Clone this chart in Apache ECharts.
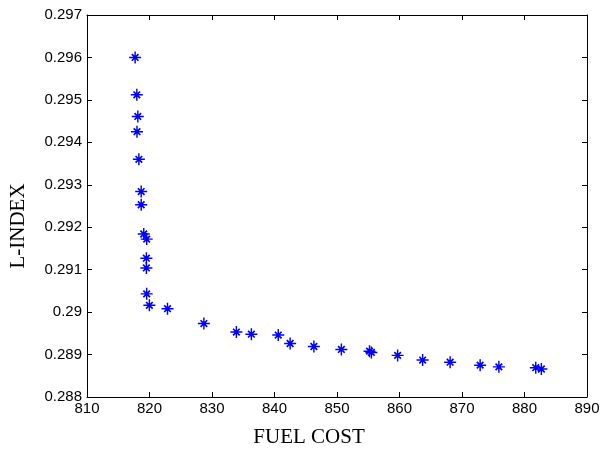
<!DOCTYPE html>
<html>
<head>
<meta charset="utf-8">
<script src="https://cdn.jsdelivr.net/npm/echarts@6/dist/echarts.min.js"></script>
<style>
  html, body { margin: 0; padding: 0; background: #fff; }
  #chart { width: 608px; height: 453px; }
</style>
</head>
<body>
<div id="chart"></div>
<script>
// pareto front: fuel cost vs L-index
const fuelCost = [
  817.7, 817.97, 818.13, 818.0, 818.3, 818.67, 818.67, 819.08, 819.55, 819.5,
  819.5, 819.55, 819.98, 822.88, 828.7, 833.9, 836.3, 840.6, 842.5, 846.3,
  850.7, 855.2, 855.5, 859.7, 863.7, 868.1, 872.9, 875.9, 881.8, 882.7
]
const lIndex = [
  0.29600, 0.29512, 0.29461, 0.29425, 0.29360, 0.29284, 0.29253, 0.29184, 0.29172, 0.29127,
  0.29104, 0.29043, 0.29016, 0.29008, 0.28973, 0.28953, 0.28948, 0.28946, 0.28926, 0.28919,
  0.28912, 0.28908, 0.28905, 0.28898, 0.28887, 0.28882, 0.28875, 0.28871, 0.28869, 0.28866
]
const xTicks = [810, 820, 830, 840, 850, 860, 870, 880, 890]
const yTicks = [0.288, 0.289, 0.29, 0.291, 0.292, 0.293, 0.294, 0.295, 0.296, 0.297]

// matlab style '*' marker, a bit heavy
const star = 'path://M8.8 0L11.2 0L11.2 20L8.8 20Z M0 8.8L20 8.8L20 11.2L0 11.2Z M3.5 5.5L5.5 3.5L16.5 14.5L14.5 16.5Z M14.5 3.5L16.5 5.5L5.5 16.5L3.5 14.5Z'

const chart = echarts.init(document.getElementById('chart'))

const tickStyle = { show: true, inside: true, length: 5, lineStyle: { color: '#000', width: 1 } }
const lineStyle = { show: true, lineStyle: { color: '#000', width: 1 } }
const labelStyle = { color: '#000', fontFamily: 'Liberation Sans', fontSize: 15 }

const option = {
  animation: false,
  backgroundColor: '#fff',
  grid: { left: 82, right: 21, top: 15, bottom: 43, containLabel: false },
  xAxis: [
    {
      type: 'value',
      min: xTicks[0],
      max: xTicks[xTicks.length - 1],
      interval: 10,
      name: 'FUEL COST',
      nameLocation: 'middle',
      nameGap: 30,
      nameTextStyle: { color: '#000', fontFamily: 'Liberation Serif', fontSize: 21, padding: [0, 56, 0, 0] },
      axisLine: lineStyle,
      axisTick: tickStyle,
      axisLabel: Object.assign({ margin: 4 }, labelStyle),
      splitLine: { show: false }
    },
    {
      type: 'value',
      position: 'top',
      min: xTicks[0],
      max: xTicks[xTicks.length - 1],
      interval: 10,
      axisLine: lineStyle,
      axisTick: tickStyle,
      axisLabel: { show: false },
      splitLine: { show: false }
    }
  ],
  yAxis: [
    {
      type: 'value',
      min: yTicks[0],
      max: yTicks[yTicks.length - 1],
      interval: 0.001,
      name: 'L-INDEX',
      nameLocation: 'middle',
      nameGap: 58,
      nameTextStyle: { color: '#000', fontFamily: 'Liberation Serif', fontSize: 21, padding: [0, 40, 0, 0] },
      axisLine: lineStyle,
      axisTick: tickStyle,
      axisLabel: Object.assign({
        margin: 5,
        formatter: function (v) { return String(parseFloat(v.toFixed(3))) }
      }, labelStyle),
      splitLine: { show: false }
    },
    {
      type: 'value',
      position: 'right',
      min: yTicks[0],
      max: yTicks[yTicks.length - 1],
      interval: 0.001,
      axisLine: lineStyle,
      axisTick: tickStyle,
      axisLabel: { show: false },
      splitLine: { show: false }
    }
  ],
  series: [
    {
      type: 'scatter',
      symbol: star,
      symbolSize: 12,
      itemStyle: { color: '#0000ff', opacity: 1 },
      data: fuelCost.map((x, i) => [x, lIndex[i]])
    }
  ]
}

chart.setOption(option)
</script>
</body>
</html>
